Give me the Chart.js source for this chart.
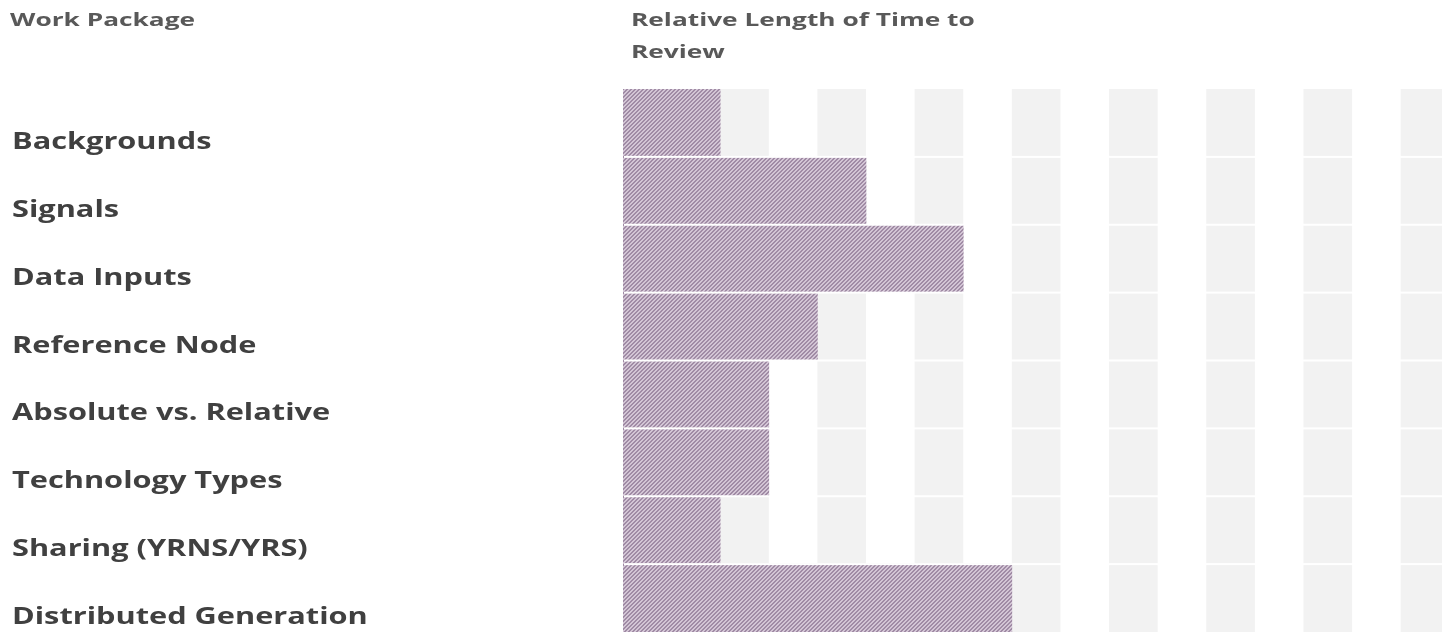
<!DOCTYPE html>
<html>
<head>
<meta charset="utf-8">
<script src="https://cdn.jsdelivr.net/npm/chart.js@4/dist/chart.umd.min.js"></script>
<style>
  html, body { margin: 0; padding: 0; background: #fff; }
  #wrap { width: 1442px; height: 632px; position: relative; }
</style>
</head>
<body>
<div id="wrap"><canvas id="ct-chart"></canvas></div>
<script>
"use strict";

const categories = [
    "Backgrounds",
    "Signals",
    "Data Inputs",
    "Reference Node",
    "Absolute vs. Relative",
    "Technology Types",
    "Sharing (YRNS/YRS)",
    "Distributed Generation"
];
const reviewTime = [2, 5, 7, 4, 3, 3, 2, 8];
const headerLeft = "Work Package";
const headerRight = ["Relative Length of Time to", "Review"];
const axisMax = 16.85;

// diagonal hatch for the bars
function makeHatch() {
    const c = document.createElement('canvas');
    c.width = 4;
    c.height = 4;
    const g = c.getContext('2d');
    g.fillStyle = '#d3c5d5';
    g.fillRect(0, 0, 4, 4);
    g.fillStyle = '#a08ba5';
    for (let i = 0; i < 4; i++) {
        g.fillRect(3 - i, i, 1, 1);
        g.fillRect((4 - i) % 4, i, 1, 1);
    }
    return g.createPattern(c, 'repeat');
}

// the source text is drawn a bit wide, so it gets a horizontal stretch
function wideText(ctx, text, x, y, sx) {
    ctx.save();
    ctx.translate(x, y);
    ctx.scale(sx, 1);
    ctx.fillText(text, 0, 0);
    ctx.restore();
}

// grey column bands, white row separators, headers and row labels
const tablePlugin = {
    id: 'table',
    beforeDatasetsDraw(chart) {
        const { ctx, chartArea, scales: { x } } = chart;
        ctx.save();
        ctx.fillStyle = '#f2f2f2';
        for (let i = 0; i < axisMax; i += 2) {
            const x0 = x.getPixelForValue(i);
            const x1 = x.getPixelForValue(Math.min(i + 1, axisMax));
            ctx.fillRect(x0, chartArea.top, x1 - x0, chartArea.bottom - chartArea.top);
        }
        ctx.restore();
    },
    afterDatasetsDraw(chart) {
        const { ctx, chartArea, scales: { y } } = chart;
        ctx.save();
        ctx.fillStyle = '#ffffff';
        for (let i = 1; i < categories.length; i++) {
            const yy = (y.getPixelForValue(i - 1) + y.getPixelForValue(i)) / 2;
            ctx.fillRect(chartArea.left + 1, yy - 1, chartArea.right - chartArea.left, 2);
        }
        ctx.restore();
    },
    afterDraw(chart) {
        const { ctx, chartArea, scales: { y } } = chart;
        ctx.save();
        ctx.textAlign = 'left';
        ctx.textBaseline = 'alphabetic';

        ctx.fillStyle = '#595959';
        ctx.font = 'bold 18.5px "Open Sans"';
        wideText(ctx, headerLeft, 10, 26, 1.42);
        headerRight.forEach((line, i) => {
            wideText(ctx, line, chartArea.left + 8, 26 + i * 32, 1.42);
        });

        ctx.fillStyle = '#404040';
        ctx.font = 'bold 24px "Open Sans"';
        categories.forEach((label, i) => {
            wideText(ctx, label, 12, y.getPixelForValue(i) + 26, 1.28);
        });
        ctx.restore();
    }
};

const ctx = document.getElementById('ct-chart').getContext('2d');

new Chart(ctx, {
    type: 'bar',
    data: {
        labels: categories,
        datasets: [{
            label: 'Relative Length of Time to Review',
            data: reviewTime,
            backgroundColor: makeHatch(),
            borderWidth: 0,
            barPercentage: 1,
            categoryPercentage: 1
        }]
    },
    options: {
        indexAxis: 'y',
        responsive: true,
        maintainAspectRatio: false,
        animation: false,
        layout: {
            padding: { left: 623, top: 89, right: 0, bottom: 0 }
        },
        scales: {
            x: {
                display: false,
                min: 0,
                max: axisMax
            },
            y: {
                display: false
            }
        },
        plugins: {
            legend: { display: false },
            tooltip: { enabled: false }
        }
    },
    plugins: [tablePlugin]
});
</script>
</body>
</html>
